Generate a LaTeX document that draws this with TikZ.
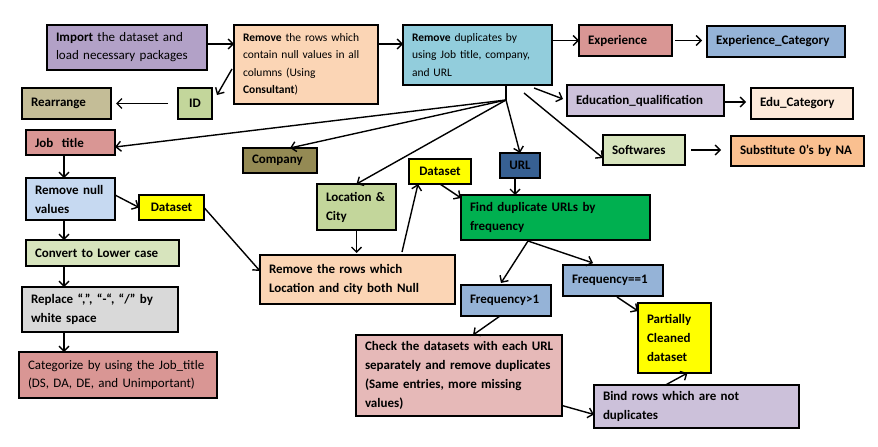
\documentclass[tikz,border=0pt]{standalone}
\usepackage{fontspec}
\setmainfont{Carlito}
\usetikzlibrary{arrows.meta}
\definecolor{cPurple}{HTML}{B2A1C7}
\definecolor{cPeach}{HTML}{FBD5B5}
\definecolor{cCyan}{HTML}{92CDDC}
\definecolor{cRose}{HTML}{D99694}
\definecolor{cBlue}{HTML}{95B3D7}
\definecolor{cLilac}{HTML}{CCC1DA}
\definecolor{cCream}{HTML}{FDEADA}
\definecolor{cPale}{HTML}{D7E4BD}
\definecolor{cOrange}{HTML}{FAC090}
\definecolor{cLime}{HTML}{C3D69B}
\definecolor{cTan}{HTML}{C4BD97}
\definecolor{cOlive}{HTML}{948A54}
\definecolor{cNavy}{HTML}{376092}
\definecolor{cGreen}{HTML}{00B050}
\definecolor{cSky}{HTML}{C6D9F1}
\definecolor{cGrey}{HTML}{D9D9D9}
\definecolor{cPink}{HTML}{E6B9B8}
\definecolor{cYellow}{HTML}{FFFF00}
\begin{document}
\begin{tikzpicture}[x=1pt,y=-1pt,
  bx/.style={draw=black, line width=1.5pt, anchor=north west, inner xsep=9pt, inner ysep=0pt, outer sep=0pt, align=left, font=\fontsize{13}{19}\selectfont\bfseries},
  small/.style={font=\fontsize{11.5}{17.4}\selectfont},
  arr/.style={line width=1.4pt, -{Straight Barb[length=5pt,width=10pt,line width=1.4pt]}},
  ln/.style={line width=1.4pt}]
\useasboundingbox (0,0) rectangle (878,447);
% top row
\node[bx, fill=cPurple, text width=142pt, minimum height=45pt, font=\fontsize{13}{18}\selectfont] (imp) at (47,25) {\mbox{\textbf{Import} the dataset and}\\\mbox{load necessary packages}};
\node[bx, small, fill=cPeach, text width=126pt, minimum height=79pt] (rmr) at (234,25) {\mbox{\textbf{Remove} the rows which}\\\mbox{contain null values in all}\\columns (Using\\\textbf{Consultant})};
\node[bx, small, fill=cCyan, text width=131pt, minimum height=60pt] (rmd) at (403,25) {\mbox{\textbf{Remove} duplicates by}\\\mbox{using Job title, company,}\\and URL};
\node[bx, fill=cRose, text width=75pt, minimum height=31pt] (exp) at (579,25) {Experience};
\node[bx, fill=cBlue, text width=120pt, minimum height=31pt] (expc) at (707,26) {\mbox{Experience\_Category}};
\node[bx, fill=cLilac, text width=139pt, minimum height=31pt] (edu) at (567,85) {\mbox{Education\_qualification}};
\node[bx, fill=cCream, text width=84pt, minimum height=31pt] (educ) at (751,88) {\mbox{Edu\_Category}};
\node[bx, fill=cPale, text width=64pt, minimum height=30pt] (sw) at (603,135) {Softwares};
\node[bx, fill=cOrange, text width=115pt, minimum height=30pt] (sub) at (731,136) {\mbox{Substitute 0’s by NA}};
\node[bx, fill=cLime, text width=16pt, minimum height=31pt, align=center] (id) at (178,88) {ID};
\node[bx, fill=cTan, text width=71pt, minimum height=31pt] (rea) at (22,88) {Rearrange};
% left column
\node[bx, fill=cRose, text width=71pt, minimum height=25pt] (job) at (26,130) {Job\ \ title};
\node[bx, fill=cSky, text width=71pt, minimum height=42pt] (rnull) at (26,178) {\mbox{Remove null}\\values};
\node[bx, fill=cYellow, text width=47pt, minimum height=25pt, align=center] (ds1) at (139,195) {Dataset};
\node[bx, fill=cPale, text width=135pt, minimum height=26pt] (conv) at (26,240) {\mbox{Convert to Lower case}};
\node[bx, fill=cGrey, text width=138pt, minimum height=45pt] (repl) at (22,287) {\mbox{Replace “,”, “-“, “/” by}\\white space};
\node[bx, fill=cRose, text width=180pt, minimum height=46pt, font=\fontsize{13}{18}\selectfont] (cat) at (19,352) {\mbox{Categorize by using the Job\_title}\\\mbox{(DS, DA, DE, and Unimportant)}};
% middle
\node[bx, fill=cOlive, text width=56pt, minimum height=25pt] (comp) at (243,148) {Company};
\node[bx, fill=cLime, text width=61pt, minimum height=46pt] (loc) at (317,184) {\mbox{Location \&}\\City};
\node[bx, fill=cYellow, text width=44pt, minimum height=25pt, align=center] (ds2) at (409,159) {Dataset};
\node[bx, fill=cNavy, text width=22pt, minimum height=25pt, align=center] (url) at (500,153) {URL};
\node[bx, fill=cGreen, text width=171pt, minimum height=45pt] (find) at (461,195) {\mbox{Find duplicate URLs by}\\frequency};
\node[bx, fill=cPeach, text width=177pt, minimum height=49pt] (rloc) at (260,255) {\mbox{Remove the rows which}\\\mbox{Location and city both Null}};
\node[bx, fill=cBlue, text width=82pt, minimum height=31pt] (fq1) at (563,265) {\mbox{Frequency==1}};
\node[bx, fill=cBlue, text width=72pt, minimum height=31pt] (fgt) at (461,285) {\mbox{Frequency>1}};
\node[bx, fill=cYellow, text width=55pt, minimum height=70pt] (pc) at (638,303) {Partially\\Cleaned\\dataset};
\node[bx, fill=cPink, text width=188pt, minimum height=81pt] (chk) at (356,335) {\mbox{Check the datasets with each URL}\\\mbox{separately and remove duplicates}\\\mbox{(Same entries, more missing}\\values)};
\node[bx, fill=cLilac, text width=187pt, minimum height=43pt] (bind) at (594,385) {\mbox{Bind rows which are not}\\duplicates};
% helper coordinates
\coordinate (sp) at (64,0);
\coordinate (J) at (506,100);
\coordinate (Jtop) at (506,85);
% connectors
\draw[arr] ([yshift=3.5pt]imp.east) -- ([yshift=3.5pt]imp.east -| rmr.west);
\draw[arr] ([yshift=20.5pt]rmr.east) -- ([yshift=20.5pt]rmr.east -| rmd.west);
\draw[arr] (rmd.east |- exp.west) -- (exp.west);
\draw[arr, shorten <=3pt, shorten >=5pt] (exp.east) -- (exp.east -| expc.west);
\draw[arr, shorten >=5pt] ([yshift=-1.5pt]edu.east) -- ([yshift=-1.5pt]edu.east -| educ.west);
\draw[arr, shorten <=6pt, shorten >=10pt] (sw.east) -- (sw.east -| sub.west);
\draw[arr] ([shift={(-18pt,-3pt)}]rmd.south east) -- ([shift={(-4pt,1.5pt)}]edu.west);
\draw[arr] ([shift={(-28pt,-8pt)}]rmd.south east) -- ([yshift=7pt]sw.south west);
\draw[ln] (Jtop) -- (J);
\draw[arr] (J) -- ([yshift=-4.5pt]job.east);
\draw[arr] (J) -- ([xshift=10pt]comp.north);
\draw[arr] (J) -- (loc.north);
\draw[arr] (J) -- (url.north);
\draw[arr] ([xshift=-5pt]url.south) -- ([xshift=-5pt]url.south |- find.north);
\draw[arr] (ds2.south) -- ([yshift=-3pt]find.north west);
\draw[arr] ([shift={(-53pt,3pt)}]rloc.north east) -- ([xshift=9pt]ds2.south west);
\draw[arr, shorten >=2pt] (loc.south) -- (loc.south |- rloc.north);
\draw[arr] (job.south -| sp) -- (rnull.north -| sp);
\draw[arr] (rnull.south -| sp) -- (conv.north -| sp);
\draw[arr] (conv.south -| sp) -- (repl.north -| sp);
\draw[arr] (repl.south -| sp) -- (cat.north -| sp);
\draw[arr] ([yshift=4pt]rnull.east) -- (ds1.west);
\draw[arr] (ds1.east) -- ([yshift=8.5pt]rloc.west);
\draw[arr] ([shift={(-2pt,-4.5pt)}]rmr.west) -- ([shift={(5pt,-7pt)}]id.north east);
\draw[arr, shorten <=10pt, shorten >=5pt] (id.west) -- (rea.east);
\draw[arr] ([shift={(67pt,-1pt)}]find.south west) -- ([shift={(-5pt,2pt)}]fgt.north);
\draw[arr] ([shift={(67pt,-1pt)}]find.south west) -- ([shift={(30pt,2pt)}]fq1.north west);
\draw[arr] ([shift={(4pt,-1pt)}]fq1.south) -- ([yshift=-8pt]pc.north west);
\draw[arr] ([xshift=-6pt]fgt.south) -- ([xshift=14pt]chk.north);
\draw[arr] ([yshift=-30pt]chk.east) -- ([yshift=-8pt]bind.west);
\draw[arr] ([xshift=-31pt]bind.north) -- ([xshift=13pt]pc.south);
\end{tikzpicture}
\end{document}
